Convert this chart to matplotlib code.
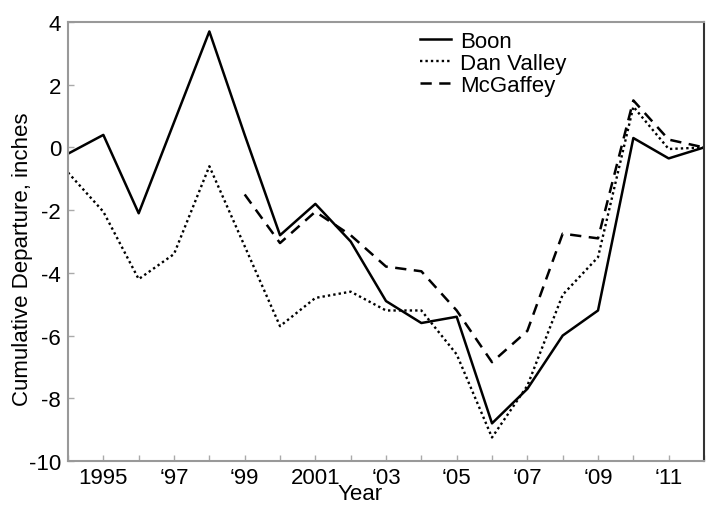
import matplotlib
matplotlib.use("Agg")
import matplotlib.pyplot as plt

plt.rcParams['font.family'] = ['Liberation Sans', 'DejaVu Sans']

years = list(range(1994, 2013))
boon = [-0.2, 0.4, -2.1, 0.8, 3.7, 0.4, -2.8, -1.8, -3.0, -4.9, -5.6, -5.4,
        -8.8, -7.7, -6.0, -5.2, 0.3, -0.35, 0.0]
dan_valley = [-0.8, -2.05, -4.2, -3.4, -0.6, -3.15, -5.7, -4.8, -4.6, -5.2, -5.2,
              -6.6, -9.25, -7.6, -4.7, -3.5, 1.3, -0.05, 0.0]
mcg_years = list(range(1999, 2013))
mcgaffey = [-1.5, -3.05, -2.05, -2.8, -3.8, -3.95, -5.2, -6.85, -5.85, -2.75,
            -2.9, 1.5, 0.25, 0.0]

xtick_pos = [1995, 1997, 1999, 2001, 2003, 2005, 2007, 2009, 2011]
xtick_labels = ['1995', '\u201897', '\u201899', '2001', '\u201803', '\u201805',
                '\u201807', '\u201809', '\u201811']
ytick_pos = [-10, -8, -6, -4, -2, 0, 2, 4]

fig = plt.figure(figsize=(7.13, 5.06), dpi=100)
ax = fig.add_axes([0.0954, 0.087, 0.892, 0.8675])

ax.plot(years, boon, color='black', lw=1.8, ls='-', label='Boon')
ax.plot(years, dan_valley, color='black', lw=1.7, ls=(0, (1, 1.3)), label='Dan Valley')
ax.plot(mcg_years, mcgaffey, color='black', lw=1.8, ls=(0, (4.5, 3)), label='McGaffey')

ax.set_xlim(1994, 2012)
ax.set_ylim(-10, 4)
ax.set_xticks(range(1994, 2013), minor=True)
ax.set_xticks(xtick_pos)
ax.set_xticklabels(xtick_labels, fontsize=16)
ax.set_yticks(ytick_pos)
ax.set_yticklabels([str(v) for v in ytick_pos], fontsize=16)
ax.tick_params(axis='both', which='both', direction='in', color='#aaaaaa', length=4, width=1)
ax.tick_params(axis='x', which='major', pad=4)
ax.tick_params(axis='y', which='major', pad=5)

for s in ['left', 'bottom', 'top']:
    ax.spines[s].set_color('#999999')
    ax.spines[s].set_linewidth(1.5)
ax.spines['right'].set_color('#333333')
ax.spines['right'].set_linewidth(1.5)

ax.set_xlabel('Year', fontsize=16)
ax.xaxis.set_label_coords(0.459, -0.051)
ax.set_ylabel('Cumulative Departure, inches', fontsize=16)
ax.yaxis.set_label_coords(-0.055, 0.462)

leg = ax.legend(loc='upper left', bbox_to_anchor=(0.532, 1.01), frameon=False,
                fontsize=16, handlelength=1.4, handletextpad=0.4, labelspacing=0.05,
                borderaxespad=0.2)

fig.savefig('out.png', dpi=100)
